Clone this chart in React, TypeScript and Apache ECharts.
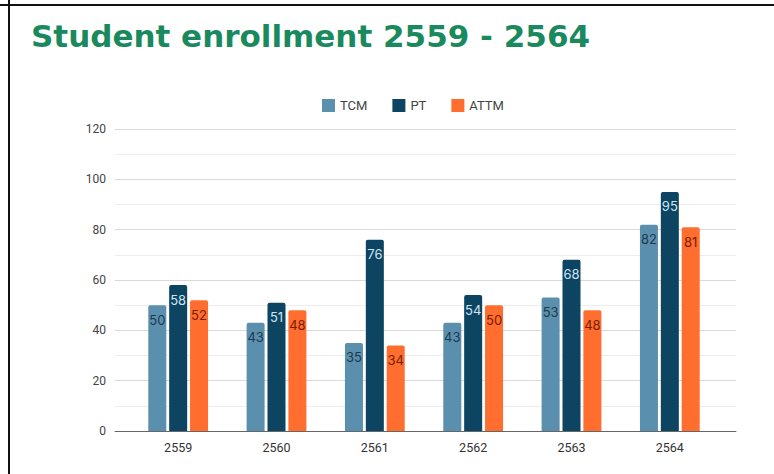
import React, { useEffect, useRef } from "react";
import * as echarts from "echarts";

const categories = ["2559", "2560", "2561", "2562", "2563", "2564"];
const tcm = [50, 43, 35, 43, 53, 82];
const pt = [58, 51, 76, 54, 68, 95];
const attm = [52, 48, 34, 50, 48, 81];
const seriesNames = ["TCM", "PT", "ATTM"];
const yTicks = [0, 20, 40, 60, 80, 100, 120];

export default function App() {
  const ref = useRef<HTMLDivElement>(null);
  useEffect(() => {
    document.body.style.margin = "0";
    const chart = echarts.init(ref.current!, null, { renderer: "svg" });
    const label = (color: string) => ({
      show: true,
      position: "insideTop",
      distance: 8,
      color,
      fontSize: 13,
      fontFamily: "Inter, Roboto, sans-serif",
    });
    chart.setOption({
      animation: false,
      backgroundColor: "#fff",
      title: {
        text: "Student enrollment 2559 - 2564",
        left: 26,
        top: 15,
        textStyle: {
          color: "#1a8a5e",
          fontSize: 31,
          fontWeight: "bold",
          fontFamily: "'DejaVu Sans', sans-serif",
        },
      },
      legend: {
        data: seriesNames,
        top: 94,
        left: 317,
        itemWidth: 13,
        itemHeight: 13,
        itemGap: 25,
        icon: "rect",
        textStyle: { color: "#444", fontSize: 13, fontFamily: "Roboto, sans-serif" },
      },
      graphic: [
        { type: "line", shape: { x1: 9, y1: 0, x2: 9, y2: 474 }, style: { stroke: "#111", lineWidth: 2 } },
        { type: "line", shape: { x1: 0, y1: 5, x2: 774, y2: 5 }, style: { stroke: "#111", lineWidth: 2 } },
      ],
      grid: [
        { left: 115, right: 38, top: 129, bottom: 43 },
        { left: 129, right: 55, top: 129, bottom: 43 },
      ],
      xAxis: [
        {
          gridIndex: 0,
          type: "value",
          min: 0,
          max: 1,
          axisLine: { show: true, lineStyle: { color: "#666", width: 1 } },
          axisTick: { show: false },
          axisLabel: { show: false },
          splitLine: { show: false },
        },
        {
          gridIndex: 1,
          type: "category",
          data: categories,
          axisLine: { show: false },
          axisTick: { show: false },
          axisLabel: { color: "#333", fontSize: 12.5, margin: 10, fontFamily: "Roboto, sans-serif" },
        },
      ],
      yAxis: [
        {
          gridIndex: 0,
          type: "value",
          min: 0,
          max: 120,
          interval: 10,
          axisLine: { show: false },
          axisTick: { show: false },
          axisLabel: {
            color: "#444",
            fontSize: 12,
            margin: 9,
            fontFamily: "Roboto, sans-serif",
            formatter: (v: number) => (yTicks.includes(v) ? String(v) : ""),
          },
          splitLine: { show: true, lineStyle: { color: ["#d9d9d9", "#ededed"], width: 1 } },
        },
        {
          gridIndex: 1,
          type: "value",
          min: 0,
          max: 120,
          show: false,
          splitLine: { show: false },
        },
      ],
      series: [
        {
          name: seriesNames[0],
          type: "bar",
          xAxisIndex: 1,
          yAxisIndex: 1,
          data: tcm,
          barWidth: 18,
          barGap: "16%",
          itemStyle: { color: "#5b8fae", borderRadius: [2, 2, 0, 0] },
          label: label("#1d3a4e"),
        },
        {
          name: seriesNames[1],
          type: "bar",
          xAxisIndex: 1,
          yAxisIndex: 1,
          data: pt,
          barWidth: 18,
          itemStyle: { color: "#0c4462", borderRadius: [2, 2, 0, 0] },
          label: label("#cfe4f2"),
        },
        {
          name: seriesNames[2],
          type: "bar",
          xAxisIndex: 1,
          yAxisIndex: 1,
          data: attm,
          barWidth: 18,
          itemStyle: { color: "#ff6d2f", borderRadius: [2, 2, 0, 0] },
          label: label("#7a1e00"),
        },
      ],
    });
    return () => chart.dispose();
  }, []);
  return <div ref={ref} style={{ width: 774, height: 474 }} />;
}
